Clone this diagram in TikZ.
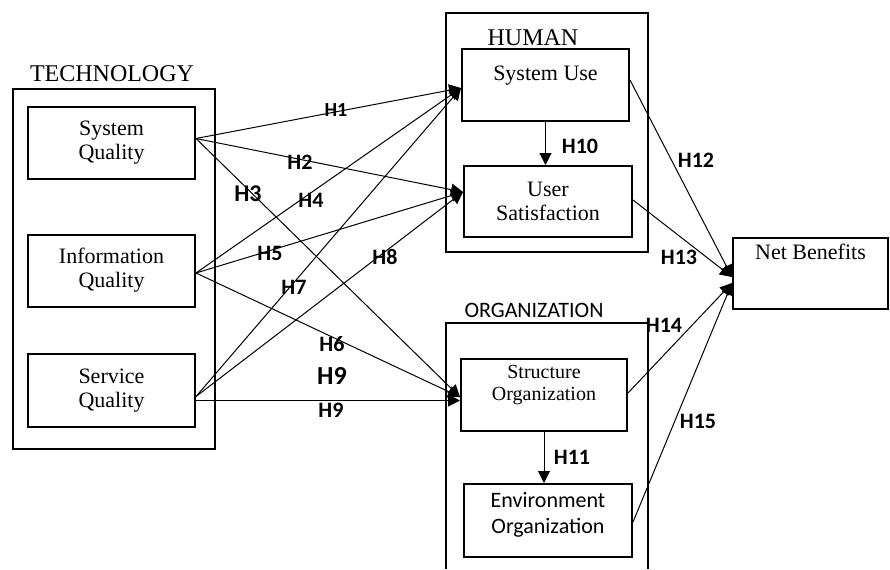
\documentclass[tikz,border=0pt]{standalone}
\usepackage{fontspec}
\setmainfont{Liberation Serif}
\newfontfamily\calibri{Carlito}
\usetikzlibrary{arrows.meta,positioning,calc}

\begin{document}
\begin{tikzpicture}[x=0.5pt,y=-0.5pt,
  grp/.style={draw,line width=1pt,minimum width=101pt,minimum height=#1,inner sep=0pt},
  bx/.style={draw,line width=1pt,minimum width=83.5pt,minimum height=36pt,inner sep=0pt,font=\fontsize{11}{12}\selectfont,align=center},
  tx/.style={font=\fontsize{11}{12}\selectfont,align=center,inner sep=0pt},
  cb/.style={font=\calibri\fontsize{11}{13}\selectfont,align=center,inner sep=0pt},
  hl/.style={font=\calibri\bfseries\fontsize{#1}{12}\selectfont,inner sep=0pt},
  hl/.default=11,
  lk/.style={-{Triangle[length=6pt,width=6pt]},line width=0.5pt}]
  \useasboundingbox (0,0) rectangle (890,569);
  % technology
  \node[grp=180pt] (tech) at (114,269) {};
  \node[tx,font=\fontsize{12}{14}\selectfont] (techlbl) at (112,74) {TECHNOLOGY};
  \node[bx] (sysq) at (111.5,142.5) {System\\Quality};
  \node[bx] (infoq) at (111.5,270.5) {Information\\Quality};
  \node[bx,minimum height=36.5pt] (servq) at (111.5,390.5) {Service\\Quality};
  % human
  \node[grp=119.5pt] (human) at (547,132.5) {};
  \node[tx,font=\fontsize{12}{14}\selectfont] (humanlbl) at (533,38) {HUMAN};
  \node[bx,label={[tx,anchor=north,yshift=-9pt]north:System Use}] (sysuse) at (545.5,85) {};
  \node[bx,minimum width=84pt,minimum height=35.5pt] (usersat) at (548,201.5) {User\\Satisfaction};
  % organization
  \draw[line width=1pt] (446,569) -- (446,323) -- (648,323) -- (648,569);
  \node[cb] (orglbl) at (534,310) {ORGANIZATION};
  \node[bx,minimum width=83pt,label={[tx,font=\fontsize{10}{11}\selectfont,anchor=north,yshift=-3.5pt]north:Structure\\Organization}] (structorg) at (544,395) {};
  \node[bx,minimum width=84pt,minimum height=36.5pt,label={[cb,anchor=north,yshift=-4.5pt]north:Environment\\Organization}] (envorg) at (548,520.5) {};
  % outcome
  \node[bx,minimum width=77.5pt,minimum height=35.5pt,label={[tx,anchor=north,yshift=-3.5pt]north:Net Benefits}] (netben) at (810.5,273.5) {};

  \coordinate (sysq-out) at ([yshift=2pt]sysq.east);
  \coordinate (infoq-out) at ([yshift=-1.25pt]infoq.east);
  \coordinate (servq-out) at ([yshift=-3pt]servq.east);
  \coordinate (servq-h) at ([yshift=-5pt]servq.east);
  \coordinate (sysuse-in) at ([yshift=-1.5pt]sysuse.west);
  \coordinate (usersat-in) at ([yshift=4.75pt]usersat.west);
  \coordinate (structorg-in) at ([yshift=-1pt]structorg.west);
  \coordinate (netben-a) at ([yshift=-1.75pt]netben.west);
  \coordinate (netben-b) at ([yshift=-4.75pt]netben.west);

  \foreach \a/\b in {sysq/sysuse,sysq/usersat,sysq/structorg,infoq/sysuse,infoq/usersat,infoq/structorg,servq/sysuse,servq/usersat}
    \draw[lk] (\a-out) -- (\b-in);
  \draw[lk] (servq-h) -- (servq-h -| structorg.west);
  \draw[lk] (sysuse.south) -- (sysuse.south |- usersat.north);
  \draw[lk] (structorg.south) -- (structorg.south |- envorg.north);
  \foreach \a/\s/\t in {sysuse/2.5pt/a,usersat/0.75pt/a,structorg/1pt/b,envorg/-0.75pt/b}
    \draw[lk] ([yshift=\s]\a.east) -- (netben-\t);

  % hypotheses
  \node[hl=10] (h1) at (336,110) {H1};
  \node[hl] (h2) at (300,162) {H2};
  \node[hl=12] (h3) at (248,194) {H3};
  \node[hl] (h4) at (311,200) {H4};
  \node[hl] (h5) at (270,253) {H5};
  \node[hl] (h6) at (332,344) {H6};
  \node[hl] (h7) at (294,287) {H7};
  \node[hl] (h8) at (385,257) {H8};
  \node[hl=13] (h9a) at (332,376) {H9};
  \node[hl] (h9b) at (331,410) {H9};
  \node[hl] (h10) at (580,146) {H10};
  \node[hl] (h11) at (572,457) {H11};
  \node[hl] (h12) at (696,160) {H12};
  \node[hl] (h13) at (679,257) {H13};
  \node[hl] (h14) at (664,325) {H14};
  \node[hl] (h15) at (698,421) {H15};
\end{tikzpicture}
\end{document}
